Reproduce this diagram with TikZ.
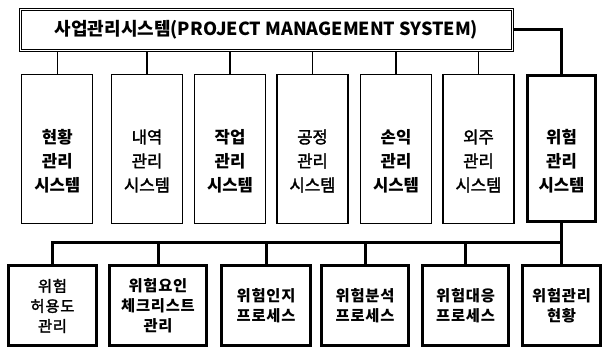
\documentclass[tikz,border=0pt]{standalone}
\usepackage{fontspec}
\setmainfont{Noto Sans CJK KR}
\newfontfamily\krmed[RawFeature={embolden=2}]{Noto Sans CJK KR}
\newfontfamily\krwide[LetterSpace=5]{Noto Sans CJK KR}
\newfontfamily\krwidemed[LetterSpace=5,RawFeature={embolden=2}]{Noto Sans CJK KR}
\begin{document}
\begin{tikzpicture}[x=0.75pt,y=-0.75pt,
  topbox/.style={draw, double, line width=0.6pt, double distance=1.2pt,
    minimum width=369pt, minimum height=31pt, inner sep=0pt,
    font=\fontsize{13.5pt}{15pt}\selectfont\bfseries},
  midbox/.style={draw, line width=0.8pt, minimum width=53.25pt, minimum height=111.75pt,
    inner sep=0pt},
  riskbox/.style={midbox, line width=2.25pt, minimum width=51pt, minimum height=109.5pt},
  midtext/.style={align=center, inner sep=0pt, font=\fontsize{12.5pt}{18pt}\selectfont\bfseries},
  midtextl/.style={midtext, font=\fontsize{12.5pt}{18pt}\selectfont\krmed},
  subbox/.style={draw, line width=2.25pt, minimum height=60pt, inner sep=0pt,
    align=center, font=\fontsize{11.5pt}{15pt}\selectfont\krwide\bfseries},
  thin/.style={line width=0.8pt},
  thick3/.style={line width=2.25pt}
]
\useasboundingbox (0,0) rectangle (608,349);
\node[topbox] (top) at (266.5,30) {사업관리시스템(PROJECT MANAGEMENT SYSTEM)};

\node[midbox]  (m1) at (57.3,149) {};
\node[midbox]  (m2) at (147,149) {};
\node[midbox]  (m3) at (230,149) {};
\node[midbox]  (m4) at (312.5,149) {};
\node[midbox]  (m5) at (396,149) {};
\node[midbox]  (m6) at (478.5,149) {};
\node[riskbox] (m7) at (561.5,149) {};

\node[midtext]  (t1) at (57.3,161) {현황\\관리\\시스템};
\node[midtextl] (t2) at (147,161) {내역\\관리\\시스템};
\node[midtext]  (t3) at (230,161) {작업\\관리\\시스템};
\node[midtextl] (t4) at (312.5,161) {공정\\관리\\시스템};
\node[midtext]  (t5) at (396,161) {손익\\관리\\시스템};
\node[midtextl] (t6) at (478.5,161) {외주\\관리\\시스템};
\node[midtext]  (t7) at (561.5,161) {위험\\관리\\시스템};

\foreach \i in {1,...,6}{
  \draw[thin] (m\i.north) -- (m\i.north |- top.south);
}
\draw[thick3] (top.east) -| (m7.north);

\node[subbox, minimum width=66pt, font=\fontsize{11.5pt}{15pt}\selectfont\krwidemed] (b1) at (52.5,306) {위험\\허용도\\관리};
\node[subbox, minimum width=72.75pt] (b2) at (158,306) {위험요인\\체크리스트\\관리};
\node[subbox, minimum width=66.75pt] (b3) at (266,306) {위험인지\\프로세스};
\node[subbox, minimum width=65.25pt] (b4) at (365,306) {위험분석\\프로세스};
\node[subbox, minimum width=64.5pt] (b5) at (465.5,306) {위험대응\\프로세스};
\node[subbox, minimum width=58.5pt] (b6) at (561.5,306) {위험관리\\현황};

\coordinate (busR) at (561.5,243);
\draw[thick3] (m7.south) -- (busR) -- (b1.north |- busR) -- (b1.north);
\foreach \i in {2,...,6}{
  \draw[thick3] (b\i.north) -- (b\i.north |- busR);
}
\end{tikzpicture}
\end{document}
